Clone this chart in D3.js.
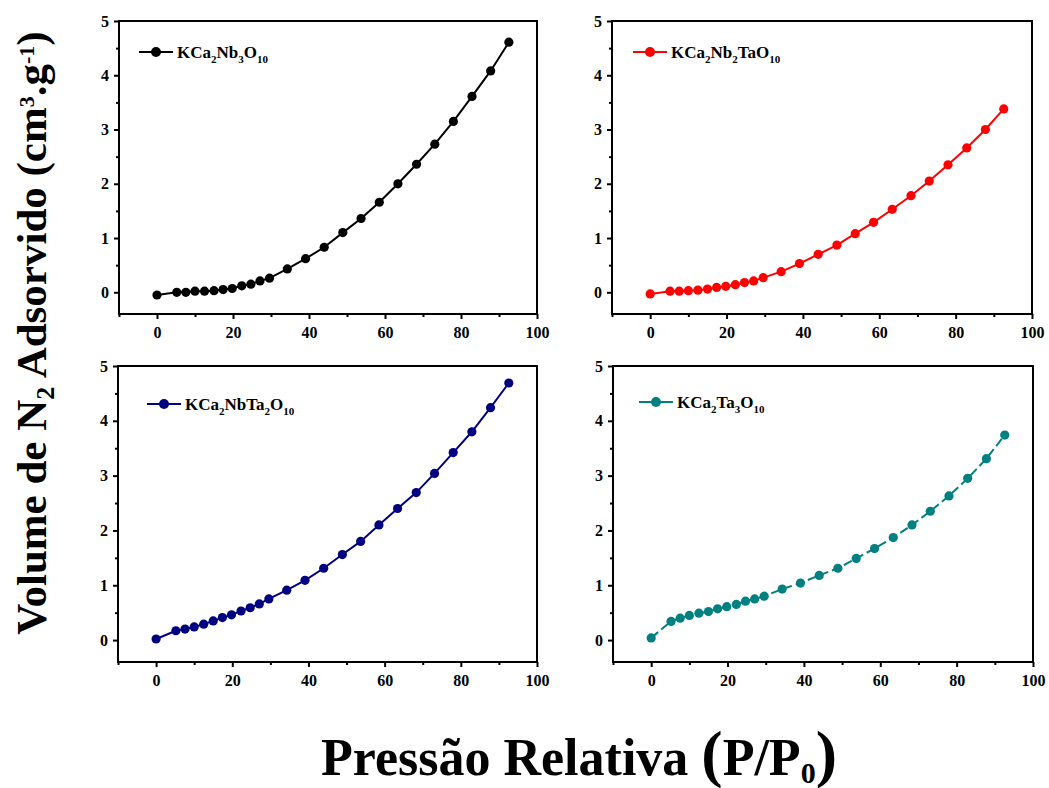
<!DOCTYPE html>
<html>
<head>
<meta charset="utf-8">
<script src="https://cdn.jsdelivr.net/npm/d3@7"></script>
<style>
  body { margin: 0; background: #fff; }
  svg text { font-family: "Liberation Serif", "Times New Roman", serif; font-weight: bold; }
</style>
</head>
<body>
<svg id="chart" width="1049" height="788"></svg>
<script>
// relative pressure (x 100), same for every sample
const pressure = [0, 5.2, 7.6, 10, 12.5, 15, 17.4, 19.8, 22.3, 24.7, 27.1, 29.6, 34.3, 39.1, 44, 48.9, 53.7, 58.5, 63.4, 68.3, 73.1, 78, 82.9, 87.8, 92.6];

const nb3 = [-0.05, 0.0, 0.0, 0.02, 0.02, 0.03, 0.05, 0.07, 0.12, 0.15, 0.21, 0.26, 0.43, 0.62, 0.83, 1.1, 1.36, 1.66, 2.0, 2.36, 2.73, 3.15, 3.61, 4.08, 4.61];
const nb2ta = [-0.03, 0.02, 0.02, 0.03, 0.04, 0.06, 0.09, 0.11, 0.14, 0.18, 0.21, 0.27, 0.38, 0.53, 0.7, 0.87, 1.08, 1.29, 1.53, 1.78, 2.05, 2.35, 2.66, 3.0, 3.38];
const nbta2 = [0.02, 0.17, 0.2, 0.24, 0.29, 0.35, 0.41, 0.46, 0.53, 0.59, 0.66, 0.75, 0.91, 1.09, 1.31, 1.56, 1.8, 2.1, 2.4, 2.69, 3.04, 3.42, 3.8, 4.24, 4.69];
const ta3 = [0.04, 0.34, 0.4, 0.45, 0.49, 0.52, 0.57, 0.61, 0.65, 0.71, 0.75, 0.8, 0.93, 1.04, 1.18, 1.31, 1.49, 1.67, 1.87, 2.1, 2.35, 2.63, 2.95, 3.31, 3.74];

const xTicks = [0, 20, 40, 60, 80, 100];
const xMinor = [-10, 10, 30, 50, 70, 90];
const yTicks = [0, 1, 2, 3, 4, 5];
const yMinor = [0.5, 1.5, 2.5, 3.5, 4.5];

// legend labels as [text, isSubscript] parts
const labels = {
  nb3:   [["KCa", 0], ["2", 1], ["Nb", 0], ["3", 1], ["O", 0], ["10", 1]],
  nb2ta: [["KCa", 0], ["2", 1], ["Nb", 0], ["2", 1], ["TaO", 0], ["10", 1]],
  nbta2: [["KCa", 0], ["2", 1], ["NbTa", 0], ["2", 1], ["O", 0], ["10", 1]],
  ta3:   [["KCa", 0], ["2", 1], ["Ta", 0], ["3", 1], ["O", 0], ["10", 1]]
};

const svg = d3.select("#chart");

const panels = [
  {values: nb3,   label: labels.nb3,   color: "#000000", dash: null, left: 119, top: 21,  w: 418, h: 293, leg: [20, 31, 58]},
  {values: nb2ta, label: labels.nb2ta, color: "#ff0000", dash: null, left: 612, top: 21,  w: 420, h: 293, leg: [21, 31, 59]},
  {values: nbta2, label: labels.nbta2, color: "#000080", dash: null, left: 118, top: 366, w: 419, h: 296, leg: [29, 38, 67]},
  {values: ta3,   label: labels.ta3,   color: "#008080", dash: "9,4", left: 613, top: 366, w: 420, h: 296, leg: [26, 36, 64]}
];

panels.forEach(drawPanel);

function drawPanel(p) {
  const x = d3.scaleLinear().domain([-10, 100]).range([0, p.w]);
  const y = d3.scaleLinear().domain([-0.4, 5]).range([p.h, 0]);

  const g = svg.append("g").attr("transform", "translate(" + p.left + "," + p.top + ")");

  // major + minor ticks, outward
  g.append("g").attr("transform", "translate(0," + p.h + ")")
    .call(d3.axisBottom(x).tickValues(xTicks).tickSize(5).tickPadding(8).tickFormat(d3.format("d")));
  g.append("g").attr("transform", "translate(0," + p.h + ")")
    .call(d3.axisBottom(x).tickValues(xMinor).tickSize(3).tickFormat(""));
  g.append("g")
    .call(d3.axisLeft(y).tickValues(yTicks).tickSize(5).tickPadding(5).tickFormat(d3.format("d")));
  g.append("g")
    .call(d3.axisLeft(y).tickValues(yMinor).tickSize(3).tickFormat(""));

  g.selectAll(".domain").remove();
  g.selectAll(".tick line").attr("stroke", "#000").attr("stroke-width", 2);
  g.selectAll(".tick text").attr("fill", "#000").style("font-size", "16px");

  g.append("rect")
    .attr("width", p.w).attr("height", p.h)
    .attr("fill", "none").attr("stroke", "#000").attr("stroke-width", 2);

  const pts = pressure.map((px, i) => [px, p.values[i]]);
  const line = d3.line().x(d => x(d[0])).y(d => y(d[1]));

  g.append("path")
    .datum(pts)
    .attr("d", line)
    .attr("fill", "none")
    .attr("stroke", p.color)
    .attr("stroke-width", 2)
    .attr("stroke-dasharray", p.dash);

  g.selectAll("circle.pt")
    .data(pts)
    .enter().append("circle")
    .attr("class", "pt")
    .attr("cx", d => x(d[0]))
    .attr("cy", d => y(d[1]))
    .attr("r", 4.6)
    .attr("fill", p.color);

  // legend
  const lg = g.append("g").attr("transform", "translate(" + p.leg[0] + "," + p.leg[1] + ")");
  lg.append("line").attr("x1", 0).attr("x2", 34).attr("y1", 0).attr("y2", 0)
    .attr("stroke", p.color).attr("stroke-width", 2);
  lg.append("circle").attr("cx", 17).attr("cy", 0).attr("r", 5).attr("fill", p.color);
  const t = lg.append("text").attr("x", p.leg[2] - p.leg[0]).attr("y", 6)
    .style("font-size", "17px").attr("fill", "#000");
  let sub = false;
  p.label.forEach(part => {
    const s = t.append("tspan").text(part[0]);
    if (part[1] && !sub) { s.attr("dy", 5).style("font-size", "11px"); sub = true; }
    else if (!part[1] && sub) { s.attr("dy", -5); sub = false; }
  });
}

// axis titles
const yt = svg.append("text")
  .attr("transform", "translate(46,333) rotate(-90)")
  .attr("text-anchor", "middle")
  .style("font-size", "43px").attr("fill", "#000");
yt.append("tspan").text("Volume de N");
yt.append("tspan").text("2").attr("dy", 8).style("font-size", "26px");
yt.append("tspan").text(" Adsorvido (cm").attr("dy", -8);
yt.append("tspan").text("3").attr("dy", -12).style("font-size", "22px");
yt.append("tspan").text(".g").attr("dy", 12);
yt.append("tspan").text("-1").attr("dy", -12).style("font-size", "22px");
yt.append("tspan").text(")").attr("dy", 12);

const xt = svg.append("text")
  .attr("x", 579).attr("y", 775)
  .attr("text-anchor", "middle")
  .style("font-size", "52px").attr("fill", "#000");
xt.append("tspan").text("Pressão Relativa ");
xt.append("tspan").text("(").style("font-size", "64px");
xt.append("tspan").text("P/P");
xt.append("tspan").text("0").attr("dy", 8).style("font-size", "30px");
xt.append("tspan").text(")").attr("dy", -8).style("font-size", "64px");
</script>
</body>
</html>
